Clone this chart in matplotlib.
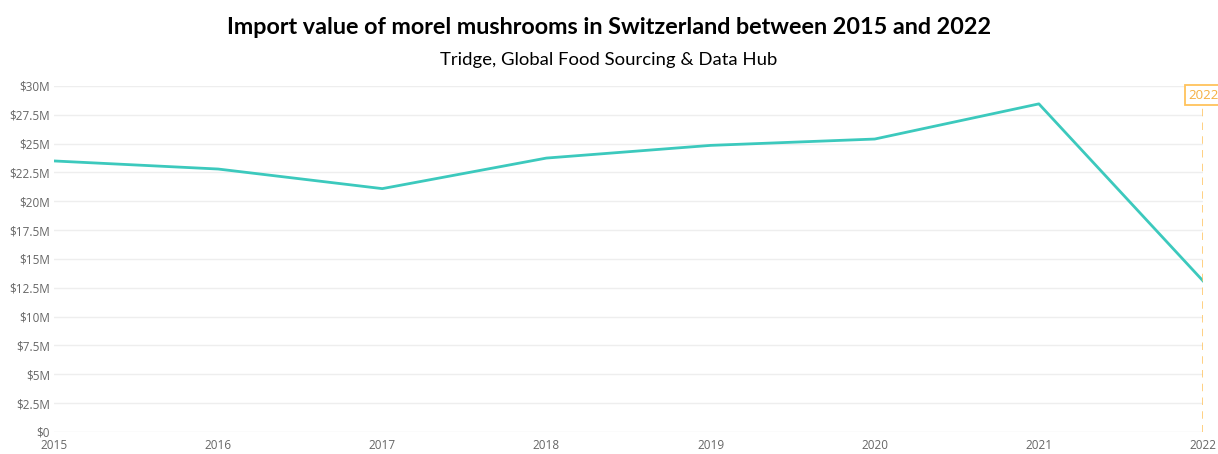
import matplotlib.pyplot as plt

# data
years = [2015, 2016, 2017, 2018, 2019, 2020, 2021, 2022]
import_value = [23.5, 22.8, 21.1, 23.75, 24.85, 25.4, 28.45, 13.1]  # million USD
y_ticks = [0, 2.5, 5, 7.5, 10, 12.5, 15, 17.5, 20, 22.5, 25, 27.5, 30]
y_labels = ['$0', '$2.5M', '$5M', '$7.5M', '$10M', '$12.5M', '$15M', '$17.5M',
            '$20M', '$22.5M', '$25M', '$27.5M', '$30M']

fig = plt.figure(figsize=(12.18, 4.54), dpi=100)
ax = fig.add_axes([0.0443, 0.0485, 0.9434, 0.7621])

ax.plot(years, import_value, color='#3cc9bd', linewidth=2)

ax.set_xlim(years[0], years[-1])
ax.set_ylim(0, 30)
ax.set_yticks(y_ticks)
ax.set_yticklabels(y_labels)
ax.set_xticks(years)
ax.tick_params(axis='both', length=0, labelsize=8.5, labelcolor='#666666')
ax.tick_params(axis='y', pad=3)
ax.tick_params(axis='x', pad=5)
for lbl in ax.get_yticklabels() + ax.get_xticklabels():
    lbl.set_fontfamily('Open Sans')

ax.grid(axis='y', color='#eeeeee', linewidth=1)
ax.set_axisbelow(True)
for s in ax.spines.values():
    s.set_visible(False)

# highlight last year
ax.axvline(years[-1], ymin=0, ymax=0.95, color='#ffc35c', linestyle='--', linewidth=1.8, dashes=(3, 2.5))
ax.text(years[-1], 29.2, str(years[-1]), ha='center', va='center', fontsize=9.5,
        color='#f5b041', fontfamily='Open Sans',
        bbox=dict(boxstyle='square,pad=0.25', fc='white', ec='#ffc35c', lw=1.3))

fig.text(0.5, 0.94, 'Import value of morel mushrooms in Switzerland between 2015 and 2022',
         ha='center', va='center', fontsize=16.8, fontweight='bold', fontfamily='Lato')
fig.text(0.5, 0.868, 'Tridge, Global Food Sourcing & Data Hub',
         ha='center', va='center', fontsize=13.3, fontfamily='Lato')

fig.savefig('out.png', dpi=100)
